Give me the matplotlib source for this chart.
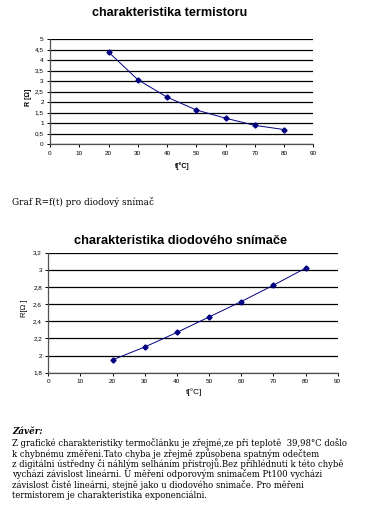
import matplotlib
matplotlib.use("Agg")
import matplotlib.pyplot as plt
from matplotlib.ticker import MultipleLocator, FuncFormatter

# ---- data ----
t_term = [20, 30, 40, 50, 60, 70, 80]
r_term = [4.38, 3.07, 2.24, 1.63, 1.24, 0.90, 0.70]

t_diode = [20, 30, 40, 50, 60, 70, 80]
r_diode = [1.95, 2.10, 2.27, 2.45, 2.63, 2.82, 3.02]

title_term = "charakteristika termistoru"
title_diode = "charakteristika diodového snímače"
caption = "Graf R=f(t) pro diodový snímač"
conclusion_head = "Závěr:"
conclusion_lines = [
    "Z grafické charakteristiky termočlánku je zřejmé,ze při teplotě  39,98°C došlo",
    "k chybnému změřeni.Tato chyba je zřejmě způsobena spatným odečtem",
    "z digitálni ústředny či náhlým selháním přistrojů.Bez přihlédnuti k této chybě",
    "vycházi závislost lineárni. U měřeni odporovým snimačem Pt100 vycházi",
    "závislost čistě lineárni, stejně jako u diodového snimače. Pro měřeni",
    "termistorem je charakteristika exponenciálni.",
]

W, H = 369, 523
fig = plt.figure(figsize=(W / 100, H / 100), dpi=100)
fig.patch.set_facecolor("white")

sans = ["Liberation Sans", "DejaVu Sans"]
serif = ["DejaVu Serif", "Liberation Serif"]
navy = "#000080"


def comma_fmt(v, pos):
    s = ("%g" % round(v, 3))
    return s.replace(".", ",")


def style_axes(ax, ymajor):
    ax.set_facecolor("white")
    ax.yaxis.set_major_locator(MultipleLocator(ymajor))
    ax.xaxis.set_major_locator(MultipleLocator(10))
    ax.yaxis.set_major_formatter(FuncFormatter(comma_fmt))
    ax.grid(axis="y", color="black", linewidth=0.9)
    ax.set_axisbelow(True)
    for s in ["right", "top"]:
        ax.spines[s].set_visible(False)
    for s in ["left", "bottom"]:
        ax.spines[s].set_color("#505050")
        ax.spines[s].set_linewidth(0.9)
    ax.tick_params(direction="out", length=2.5, width=0.7, labelsize=4.6,
                   colors="black", pad=2)
    for lab in ax.get_xticklabels() + ax.get_yticklabels():
        lab.set_family(sans)


def fx(px):
    return px / W


def fy(py):
    return 1 - py / H


# ---- top chart ----
ax1 = fig.add_axes([fx(50), fy(144.3), fx(263.3), 105.3 / H])
ax1.plot(t_term, r_term, color=navy, linewidth=0.7, marker="D",
         markersize=2.6, markerfacecolor=navy, markeredgecolor=navy)
ax1.set_xlim(0, 90)
ax1.set_ylim(0, 5)
style_axes(ax1, 0.5)
fig.text(fx(170), fy(12.5), title_term, ha="center", va="center",
         fontsize=9.1, fontweight="bold", family=sans)
fig.text(fx(182), fy(166), "t[°C]", ha="center", va="center",
         fontsize=5, fontweight="bold", family=sans)
fig.text(fx(29), fy(97), "R [Ω]", ha="center", va="center", rotation=90,
         fontsize=5, fontweight="bold", family=sans)

# ---- caption ----
fig.text(fx(12), fy(202), caption, ha="left", va="center",
         fontsize=6.4, family=serif)

# ---- bottom chart ----
ax2 = fig.add_axes([fx(48.3), fy(372.7), fx(289.4), 120 / H])
ax2.plot(t_diode, r_diode, color=navy, linewidth=0.7, marker="D",
         markersize=2.6, markerfacecolor=navy, markeredgecolor=navy)
ax2.set_xlim(0, 90)
ax2.set_ylim(1.8, 3.2)
style_axes(ax2, 0.2)
fig.text(fx(181), fy(241), title_diode, ha="center", va="center",
         fontsize=9.2, fontweight="bold", family=sans)
fig.text(fx(194), fy(392), "t[°C]", ha="center", va="center",
         fontsize=6, family=sans)
fig.text(fx(25), fy(308), "R[Ω ]", ha="center", va="center", rotation=90,
         fontsize=5.5, family=sans)

# ---- conclusion ----
fig.text(fx(12), fy(431), conclusion_head, ha="left", va="center",
         fontsize=6.3, fontweight="bold", style="italic", family=serif)
y0 = 443.5
for i, line in enumerate(conclusion_lines):
    fig.text(fx(12), fy(y0 + i * 10.3), line, ha="left", va="center",
             fontsize=6.15, family=serif)

fig.savefig("out.png", dpi=100, facecolor="white")
